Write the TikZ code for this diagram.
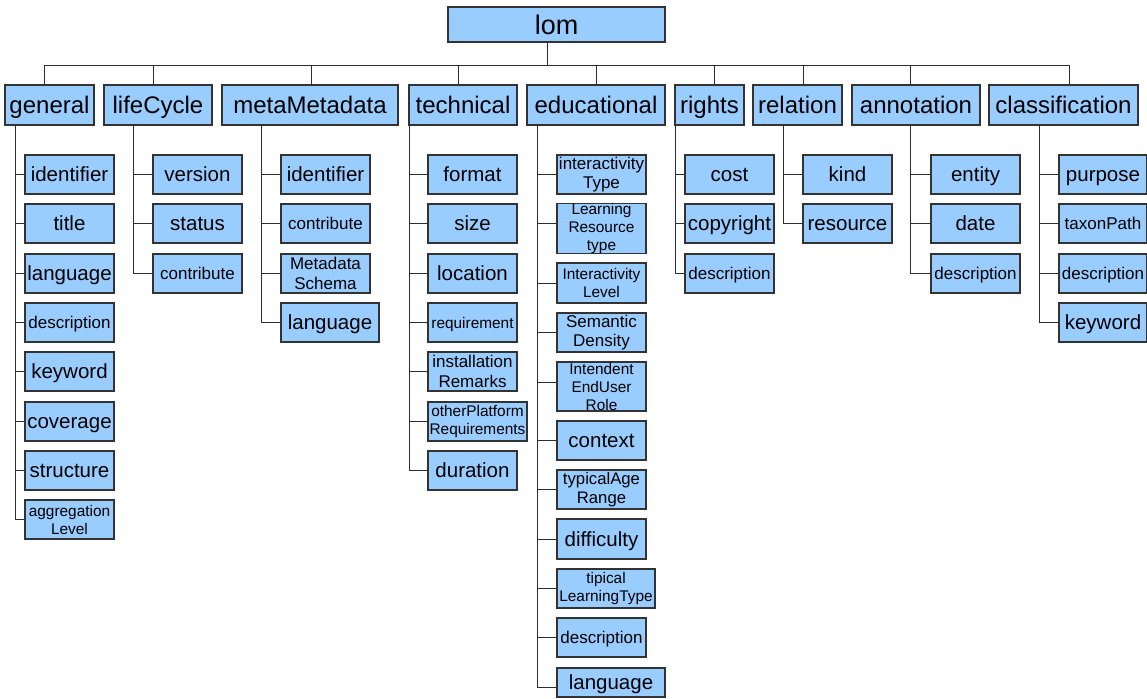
\documentclass[tikz,border=0pt]{standalone}
\usepackage{fontspec}
\setmainfont{Liberation Sans}
\definecolor{boxfill}{HTML}{99CCFF}
\definecolor{boxline}{HTML}{333333}
\definecolor{wireline}{HTML}{2E2E2E}
\newcommand\fzLom{\fontsize{27}{30}\selectfont}
\newcommand\fzTop{\fontsize{24}{27}\selectfont}
\newcommand\fzBig{\fontsize{20.5}{23}\selectfont}
\newcommand\fzMid{\fontsize{17}{19.5}\selectfont}
\newcommand\fzSml{\fontsize{15.4}{18}\selectfont}
\tikzset{
  box/.style={draw=boxline, fill=boxfill, line width=1.1pt, inner sep=0pt,
              align=center, text=black},
  % single-line labels: caps centred in the box (cap height of the font)
  one/.style={text height=#1, text depth=0pt},
  topbox/.style={box, minimum height=40pt, font=\fzTop, one=17.3pt},
  kid/.style={box, minimum width=89pt, minimum height=39pt},
  kbig/.style={kid, font=\fzBig, one=14.8pt},
  kmid/.style={kid, font=\fzMid, one=12.2pt},
  kmidm/.style={kid, font=\fzMid},
  ksml/.style={kid, font=\fzSml},
  wire/.style={draw=wireline, line width=1pt},
}
\begin{document}
\begin{tikzpicture}[x=1pt, y=-1pt]
\useasboundingbox[fill=white] (0,0) rectangle (1147,698);

% root
\node[box, minimum width=217pt, minimum height=35pt, font=\fzLom, one=19.4pt] (lom) at (556.5,24.5) {lom};
\coordinate (bus) at (547,66);

% first level
\node[topbox, minimum width=89pt]  (general)  at (49.5,105)  {general};
\node[topbox, minimum width=108pt] (life)     at (158,105)   {lifeCycle};
\node[topbox, minimum width=176pt] (meta)     at (310,105)   {metaMetadata};
\node[topbox, minimum width=108pt] (tech)     at (463,105)   {technical};
\node[topbox, minimum width=138pt] (edu)      at (596,105)   {educational};
\node[topbox, minimum width=69pt]  (rights)   at (709.5,105) {rights};
\node[topbox, minimum width=89pt]  (relation) at (797.5,105) {relation};
\node[topbox, minimum width=128pt] (annot)    at (916,105)   {annotation};
\node[topbox, minimum width=149pt] (classif)  at (1063.5,105){classification};

% general
\node[kbig] (g1) at (69.5,174.5) {identifier};
\node[kbig] (g2) at (69.5,223.5) {title};
\node[kbig] (g3) at (69.5,273.5) {language};
\node[kmid] (g4) at (69.5,322.5) {description};
\node[kbig] (g5) at (69.5,371.5) {keyword};
\node[kbig] (g6) at (69.5,421.5) {coverage};
\node[kbig] (g7) at (69.5,470.5) {structure};
\node[ksml] (g8) at (69.5,519.5) {aggregation\\Level};

% lifeCycle
\node[kbig] (l1) at (197.5,174.5) {version};
\node[kbig] (l2) at (197.5,223.5) {status};
\node[kmid] (l3) at (197.5,273.5) {contribute};

% metaMetadata
\node[kbig] (m1) at (325.5,174.5) {identifier};
\node[kmid] (m2) at (325.5,223.5) {contribute};
\node[kmidm] (m3) at (325.5,273.5) {Metadata\\Schema};
\node[kbig, minimum width=98pt] (m4) at (330,322.5) {language};

% technical
\node[kbig] (t1) at (472.5,174.5) {format};
\node[kbig] (t2) at (472.5,223.5) {size};
\node[kbig] (t3) at (472.5,273.5) {location};
\node[ksml, one=11.1pt] (t4) at (472.5,322.5) {requirement};
\node[kmidm] (t5) at (472.5,371.5) {installation\\Remarks};
\node[ksml, minimum width=99pt] (t6) at (477.5,421.5) {otherPlatform\\Requirements};
\node[kbig] (t7) at (472.5,470.5) {duration};

% educational
\node[kmidm] (e1) at (601.5,174.5) {interactivity\\Type};
\node[ksml, minimum height=49pt] (e2) at (601.5,228.5) {Learning\\Resource\\type};
\node[ksml, minimum height=40pt] (e3) at (601.5,283) {Interactivity\\Level};
\node[kmidm] (e4) at (601.5,332.5) {Semantic\\Density};
\node[ksml, minimum height=49pt] (e5) at (601.5,386.5) {Intendent\\EndUser\\Role};
\node[kbig] (e6) at (601.5,440.5) {context};
\node[kid, font=\fontsize{16.7}{19}\selectfont] (e7) at (601.5,489.5) {typicalAge\\Range};
\node[kbig, minimum height=40pt] (e8) at (601.5,539) {difficulty};
\node[ksml, minimum width=98pt] (e9) at (606,588.5) {tipical\\LearningType};
\node[kmid] (e10) at (601.5,637.5) {description};
\node[kbig, minimum width=108pt, minimum height=29pt] (e11) at (611,682.5) {language};

% rights
\node[kbig] (r1) at (729.5,174.5) {cost};
\node[kbig] (r2) at (729.5,223.5) {copyright};
\node[kmid] (r3) at (729.5,273.5) {description};

% relation
\node[kbig] (re1) at (847.5,174.5) {kind};
\node[kbig] (re2) at (847.5,223.5) {resource};

% annotation
\node[kbig] (a1) at (975.5,174.5) {entity};
\node[kbig] (a2) at (975.5,223.5) {date};
\node[kmid] (a3) at (975.5,273.5) {description};

% classification
\node[kbig, minimum width=88pt] (c1) at (1103,174.5) {purpose};
\node[kmid, minimum width=88pt] (c2) at (1103,223.5) {taxonPath};
\node[kmid, minimum width=88pt] (c3) at (1103,273.5) {description};
\node[kbig, minimum width=88pt] (c4) at (1103,322.5) {keyword};

% root to first level
\draw[wire] ([xshift=-9.5pt]lom.south) -- (bus);
\draw[wire] ([xshift=-5.5pt]general.north) |- (bus);
\draw[wire] ([xshift=-5pt]life.north) |- (bus);
\draw[wire] ([xshift=1pt]meta.north) |- (bus);
\draw[wire] ([xshift=-5pt]tech.north) |- (bus);
\draw[wire] (edu.north) |- (bus);
\draw[wire] ([xshift=4.5pt]rights.north) |- (bus);
\draw[wire] ([xshift=5.5pt]relation.north) |- (bus);
\draw[wire] ([xshift=-6pt]annot.north) |- (bus);
\draw[wire] ([xshift=5.5pt]classif.north) |- (bus);

% first level to children
\foreach \c in {g1,g2,g3,g4,g5,g6,g7,g8}
  \draw[wire] ([xshift=-34.5pt]general.south) |- (\c.west);
\foreach \c in {l1,l2,l3}
  \draw[wire] ([xshift=-25pt]life.south) |- (\c.west);
\foreach \c in {m1,m2,m3,m4}
  \draw[wire] ([xshift=-49pt]meta.south) |- (\c.west);
\foreach \c in {t1,t2,t3,t4,t5,t6,t7}
  \draw[wire] ([xshift=-54pt]tech.south) |- (\c.west);
\foreach \c in {e1,e3,e4,e6,e7,e8,e9,e10}
  \draw[wire] ([xshift=-59pt]edu.south) |- (\c.west);
\draw[wire] ([xshift=-59pt]edu.south) |- ([yshift=5.5pt]e2.west);
\draw[wire] ([xshift=-59pt]edu.south) |- ([yshift=4.5pt]e5.west);
\draw[wire] ([xshift=-59pt]edu.south) |- ([yshift=-4.5pt]e11.west);
\foreach \c in {r1,r2,r3}
  \draw[wire] ([xshift=-34.5pt]rights.south) |- (\c.west);
\foreach \c in {re1,re2}
  \draw[wire] ([xshift=-14.5pt]relation.south) |- (\c.west);
\foreach \c in {a1,a2,a3}
  \draw[wire] ([xshift=-6pt]annot.south) |- (\c.west);
\foreach \c in {c1,c2,c3,c4}
  \draw[wire] ([xshift=-24.5pt]classif.south) |- (\c.west);
\end{tikzpicture}
\end{document}
